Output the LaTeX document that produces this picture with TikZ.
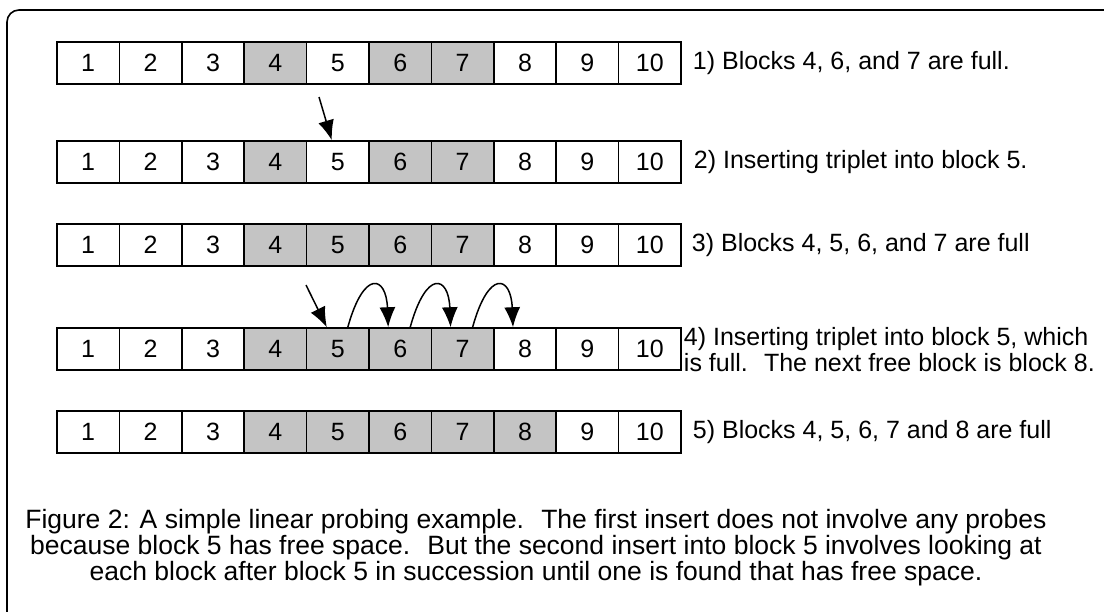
\documentclass[tikz,border=0pt]{standalone}
\usepackage{fontspec}
\setmainfont{Liberation Sans}
\usepackage{tikz}
\usetikzlibrary{arrows.meta}
\usepackage{xcolor}
\definecolor{fullgray}{gray}{0.77}

\tikzset{
    cell/.style  = {draw, line width=1.5pt, minimum width=62.4pt, minimum height=42pt,
                    inner sep=0pt, font=\fontsize{25}{30}\selectfont},
    rowlbl/.style = {anchor=west, inner sep=0pt, align=left,
                    font=\fontsize{25}{26}\selectfont},
    probe/.style = {-{Latex[length=20pt,width=16pt]}, line width=1.5pt},
}

\begin{document}
\begin{tikzpicture}[x=1pt, y=-1pt]
        \useasboundingbox (0,0) rectangle (1104,611);
        \clip (0,0) rectangle (1104,611);
        \draw[line width=1.6pt, rounded corners=12pt] (7,10) rectangle (1125,640);

        \foreach \r/\y/\g in {1/63/{4,6,7}, 2/162/{4,6,7}, 3/245/{4,5,6,7},
                              4/349/{4,5,6,7}, 5/432/{4,5,6,7,8}} {
            \foreach \j in \g
                \fill[fullgray] ({57+62.4*(\j-1)},{\y-21}) rectangle +(62.4,42);
            \foreach \i in {1,...,10}
                \node[cell] (r\r-\i) at ({57+62.4*(\i-0.5)},\y) {\i};
        }

        \node[rowlbl] (l1) at ([xshift=11pt]r1-10.east) {1) Blocks 4, 6, and 7 are full.};
        \node[rowlbl] (l2) at ([xshift=12pt]r2-10.east) {2) Inserting triplet into block 5.};
        \node[rowlbl] (l3) at ([xshift=10pt]r3-10.east) {3) Blocks 4, 5, 6, and 7 are full};
        \node[rowlbl] (l4) at ([xshift=2pt,yshift=-1pt]r4-10.east)
            {4) Inserting triplet into block 5, which\\is full.~ The next free block is block 8.};
        \node[rowlbl] (l5) at ([xshift=11pt]r5-10.east) {5) Blocks 4, 5, 6, 7 and 8 are full};

        \coordinate (in2) at (319,97);
        \coordinate (in4) at (306,285);
        \draw[probe] (in2) -- ([xshift=-6pt]r2-5.north);
        \draw[probe] (in4) -- ([xshift=-11pt]r4-5.north);
        \foreach \a/\b in {5/6, 6/7, 7/8}
            \draw[probe] ([xshift=10pt]r4-\a.north) .. controls +(16,-58) and +(-2,-52) .. ([xshift=-12pt]r4-\b.north);

        \node[align=center, inner sep=0pt, font=\fontsize{26.5}{25}\selectfont] (cap) at (536,548)
            {Figure 2: A simple linear probing example.~ The first insert does not involve any probes\\[1pt]
             because block 5 has free space.~ But the second insert into block 5 involves looking at\\[1pt]
             each block after block 5 in succession until one is found that has free space.};
    \end{tikzpicture}
\end{document}
